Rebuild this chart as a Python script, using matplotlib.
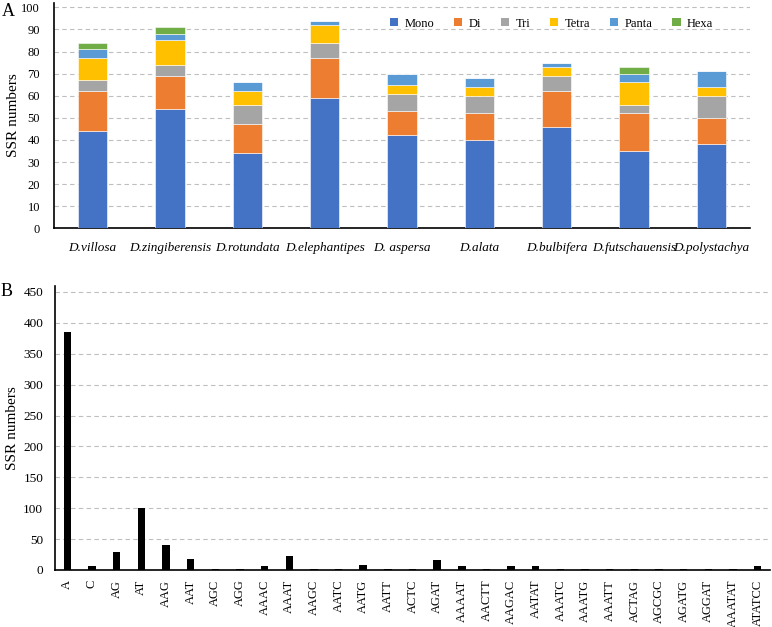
import matplotlib
matplotlib.use("Agg")
import matplotlib.pyplot as plt
from matplotlib.patches import Patch
import numpy as np

plt.rcParams['font.family'] = ['Liberation Serif', 'DejaVu Serif']

# ---- Panel A data ----
species = ["D.villosa", "D.zingiberensis", "D.rotundata", "D.elephantipes", "D. aspersa",
           "D.alata", "D.bulbifera", "D.futschauensis", "D.polystachya"]
series_names = ["Mono", "Di", "Tri", "Tetra", "Panta", "Hexa"]
mono  = [44, 54, 34, 59, 42, 40, 46, 35, 38]
di    = [18, 15, 13, 18, 11, 12, 16, 17, 12]
tri   = [5, 5, 9, 7, 8, 8, 7, 4, 10]
tetra = [10, 11, 6, 8, 4, 4, 4, 10, 4]
panta = [4, 3, 4, 2, 5, 4, 2, 4, 7]
hexa  = [3, 3, 0, 0, 0, 0, 0, 3, 0]
colors = ["#4472C4", "#ED7D31", "#A5A5A5", "#FFC000", "#5B9BD5", "#70AD47"]

# ---- Panel B data ----
motifs = ["A", "C", "AG", "AT", "AAG", "AAT", "AGC", "AGG", "AAAC", "AAAT", "AAGC", "AATC",
          "AATG", "AATT", "ACTC", "AGAT", "AAAAT", "AACTT", "AAGAC", "AATAT", "AAATC",
          "AAATG", "AAATT", "ACTAG", "AGCGC", "AGATG", "AGGAT", "AAATAT", "ATATCC"]
motif_counts = [385, 6, 29, 101, 40, 18, 2, 2, 6, 22, 2, 2,
                8, 2, 2, 16, 7, 2, 6, 7, 1,
                1, 1, 1, 1, 1, 1, 1, 6]

W, H = 772, 627
fig = plt.figure(figsize=(W / 100, H / 100), dpi=100)

# ---- Panel A ----
axA = fig.add_axes([54 / W, 1 - 228.3 / H, (750 - 54) / W, (228.3 - 2.9) / H])
x = np.arange(len(species))
bottom = np.zeros(len(species))
for name, vals, c in zip(series_names, [mono, di, tri, tetra, panta, hexa], colors):
    vals = np.array(vals, dtype=float)
    axA.bar(x, vals, width=0.38, bottom=bottom, color=c, edgecolor='white',
            linewidth=0.4, zorder=3)
    bottom += vals
axA.set_xlim(-0.5, len(species) - 0.5)
axA.set_ylim(0, 102)
axA.set_yticks(np.arange(0, 101, 10))
axA.set_xticks(x)
axA.set_xticklabels(species, style='italic', fontsize=9.5)
axA.tick_params(axis='both', length=0)
axA.tick_params(axis='y', labelsize=9, pad=10)
axA.tick_params(axis='x', pad=10)
axA.yaxis.grid(True, linestyle=(0, (4, 3)), color='#BFBFBF', linewidth=0.8, zorder=0)
axA.set_axisbelow(True)
for s in ['top', 'right']:
    axA.spines[s].set_visible(False)
axA.spines['left'].set_color('black')
axA.spines['left'].set_linewidth(1.2)
axA.spines['bottom'].set_color('black')
axA.spines['bottom'].set_linewidth(1.2)
axA.set_ylabel("SSR numbers", fontsize=11, labelpad=1)
handles = [Patch(facecolor=c, edgecolor='none') for c in colors]
axA.legend(handles, series_names, loc='center', bbox_to_anchor=(0.715, 0.908), ncol=6,
           frameon=False, fontsize=9, handlelength=0.65, handleheight=0.65,
           handletextpad=0.5, columnspacing=1.6)
fig.text(8 / W, 1 - 11 / H, "A", fontsize=13, ha='center', va='center')

# ---- Panel B ----
axB = fig.add_axes([55 / W, 1 - 570 / H, (770 - 55) / W, (570 - 285.8) / H])
xb = np.arange(len(motifs))
axB.bar(xb, motif_counts, width=0.3, color='black', zorder=3)
axB.set_xlim(-0.5, len(motifs) - 0.5)
axB.set_ylim(0, 460)
axB.set_yticks(np.arange(0, 451, 50))
axB.set_xticks(xb)
axB.set_xticklabels(motifs, rotation=90, fontsize=9)
axB.tick_params(axis='both', length=0)
axB.tick_params(axis='y', labelsize=9.5, pad=8.5)
axB.tick_params(axis='x', pad=7)
axB.yaxis.grid(True, linestyle=(0, (4, 3)), color='#BFBFBF', linewidth=0.8, zorder=0)
axB.set_axisbelow(True)
for s in ['top', 'right']:
    axB.spines[s].set_visible(False)
axB.spines['left'].set_linewidth(1.2)
axB.spines['bottom'].set_linewidth(1.2)
axB.set_ylabel("SSR numbers", fontsize=11, labelpad=3)
fig.text(7 / W, 1 - 291 / H, "B", fontsize=13, ha='center', va='center')

fig.savefig("out.png", dpi=100)
